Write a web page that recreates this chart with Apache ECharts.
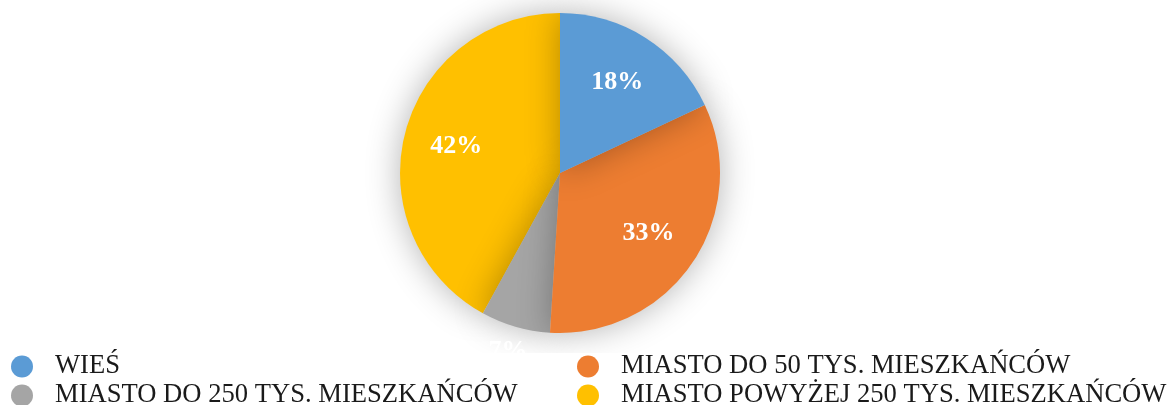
<!DOCTYPE html>
<html>
<head>
<meta charset="utf-8">
<script src="https://cdn.jsdelivr.net/npm/echarts@6/dist/echarts.min.js"></script>
<style>
html, body { margin:0; padding:0; background:#fff; }
#chart { width:1169px; height:405px; }
</style>
</head>
<body>
<div id="chart"></div>
<script>
// udział respondentów wg miejsca zamieszkania (%)
const categories = ['WIEŚ', 'MIASTO DO 50 TYS. MIESZKAŃCÓW', 'MIASTO DO 250 TYS. MIESZKAŃCÓW', 'MIASTO POWYŻEJ 250 TYS. MIESZKAŃCÓW'];
const shares = [18, 33, 7, 42];
const colors = ['#5B9BD5', '#ED7D31', '#A5A5A5', '#FFC000'];

const chart = echarts.init(document.getElementById('chart'));

// drawn in reverse so the first slice's shadow lands on its neighbours (like the Excel original)
const order = [3, 2, 1, 0];
const labelFont = { color:'#fff', fontFamily:'Liberation Serif', fontWeight:'bold', fontSize:26 };

const pieBase = {
  type:'pie', center:[560, 173], clockwise:false, startAngle:90,
  animation:false, emphasis:{ disabled:true }, labelLine:{ show:false }
};

const slices = order.map(i => ({
  name:categories[i], value:shares[i],
  itemStyle:{ color:colors[i], shadowBlur:34, shadowColor:'rgba(0,0,0,0.3)' }
}));

const innerLabels = order.map(i => ({
  name:categories[i], value:shares[i],
  label:{ show: shares[i] > 10 }
}));

const outerLabels = order.map(i => ({
  name:categories[i], value:shares[i],
  label:{ show: shares[i] <= 10 }
}));

const legendBase = {
  orient:'vertical', top:353, height:70, itemGap:2, icon:'circle',
  itemWidth:22, itemHeight:22, backgroundColor:'#fff', selectedMode:false,
  textStyle:{ fontFamily:'Liberation Serif', fontSize:26.6, color:'#1a1a1a', lineHeight:27, padding:[0,0,0,17] }
};

chart.setOption({
  backgroundColor:'#fff',
  legend:[
    // wide right padding: the white legend box hides the lower half of the 7% label, as in the original
    Object.assign({}, legendBase, { left:11, data:[categories[0], categories[2]], padding:[0,70,0,0] }),
    Object.assign({}, legendBase, { left:577, data:[categories[1], categories[3]], padding:0 })
  ],
  series:[
    Object.assign({}, pieBase, { radius:160, label:{ show:false }, data:slices }),
    Object.assign({}, pieBase, {
      radius:[48, 160], silent:true, legendHoverLink:false,
      itemStyle:{ color:'rgba(0,0,0,0)' },
      label:Object.assign({ position:'inside', formatter:'{c}%' }, labelFont),
      data:innerLabels
    }),
    Object.assign({}, pieBase, {
      radius:[168, 198], silent:true, legendHoverLink:false,
      itemStyle:{ color:'rgba(0,0,0,0)' },
      label:Object.assign({ position:'inside', formatter:'{c}%' }, labelFont),
      data:outerLabels
    })
  ]
});
</script>
</body>
</html>
